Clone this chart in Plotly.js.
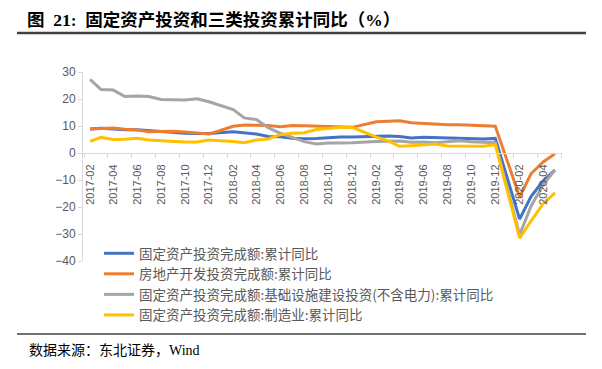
<!DOCTYPE html>
<html>
<head>
<meta charset="utf-8">
<script src="https://cdn.plot.ly/plotly-3.0.1.min.js"></script>
<style>html,body{margin:0;padding:0;background:#fff}#chart{width:602px;height:369px}</style>
</head>
<body>
<div id="chart"></div>
<script>
// Months (Jan values are combined into Feb, so January is absent)
var months = [
  '2017-02','2017-03','2017-04','2017-05','2017-06','2017-07','2017-08','2017-09','2017-10','2017-11','2017-12',
  '2018-02','2018-03','2018-04','2018-05','2018-06','2018-07','2018-08','2018-09','2018-10','2018-11','2018-12',
  '2019-02','2019-03','2019-04','2019-05','2019-06','2019-07','2019-08','2019-09','2019-10','2019-11','2019-12',
  '2020-02','2020-03','2020-04','2020-05'
];
var seriesNames = [
  '固定资产投资完成额:累计同比',
  '房地产开发投资完成额:累计同比',
  '固定资产投资完成额:基础设施建设投资(不含电力):累计同比',
  '固定资产投资完成额:制造业:累计同比'
];
var fai = [8.9,9.2,8.9,8.6,8.6,8.3,7.8,7.5,7.3,7.2,7.2,
           7.9,7.5,7.0,6.1,6.0,5.5,5.3,5.4,5.7,5.9,5.9,
           6.1,6.3,6.1,5.6,5.8,5.7,5.5,5.4,5.2,5.2,5.4,
           -24.5,-16.1,-10.3,-6.3];
var realEstate = [8.9,9.1,9.3,8.8,8.5,7.9,7.9,8.1,7.8,7.5,7.0,
           9.9,10.4,10.3,10.2,9.7,10.2,10.1,9.9,9.7,9.7,9.5,
           11.6,11.8,11.9,11.2,10.9,10.6,10.5,10.5,10.3,10.2,9.9,
           -16.3,-7.7,-3.3,-0.3];
var infra = [27.3,23.5,23.3,20.9,21.1,20.9,19.8,19.8,19.6,20.1,19.0,
           16.1,13.0,12.4,9.4,7.3,5.7,4.2,3.3,3.7,3.7,3.8,
           4.3,4.4,4.4,4.0,4.1,3.8,4.2,4.5,4.2,4.0,3.8,
           -30.3,-19.7,-11.8,-6.3];
var manuf = [4.3,5.8,5.0,5.1,5.5,4.8,4.5,4.2,4.1,4.1,4.8,
           4.3,3.8,4.8,5.2,6.8,7.3,7.5,8.7,9.1,9.5,9.5,
           5.9,4.6,2.5,2.7,3.0,3.3,2.6,2.5,2.6,2.5,3.1,
           -31.5,-25.2,-18.8,-14.8];
var colors = ['#4472C4','#ED7D31','#A5A5A5','#FFC000'];
var yTicks = [30,20,10,0,-10,-20,-30,-40];

var values = [fai, realEstate, infra, manuf];
var traces = values.map(function(v,i){
  return {x: months, y: v, type:'scatter', mode:'lines', name: seriesNames[i],
          line:{color: colors[i], width:3}, hoverinfo:'skip'};
});

// plot area pixel geometry
var L=83, R=562, T=72, B=261, W=602, H=369;
function px(x){return (x-L)/(R-L);}
function py(y){return (B-y)/(B-T);}

var layout = {
  width: W, height: H,
  margin: {l:L, r:W-R, t:T, b:H-B, pad:0},
  paper_bgcolor:'#fff', plot_bgcolor:'rgba(0,0,0,0)',
  showlegend: true,
  title: {
    text: '图&nbsp;&nbsp;21:&nbsp;&nbsp;固定资产投资和三类投资累计同比（%）',
    font: {family:'Liberation Serif, Noto Sans CJK SC', size:17.5, color:'#000', weight:'bold'},
    x: 27/W, xref:'container', xanchor:'left',
    y: 1-20/H, yref:'container', yanchor:'middle'
  },
  xaxis: {
    type:'date',
    range:['2017-01-14','2020-05-19'],
    anchor:'free', position: 40/70,
    showgrid:false, zeroline:false,
    showline:true, linecolor:'#d9d9d9', linewidth:1,
    tickmode:'linear', tick0:'2017-02-01', dtick:'M2',
    tickformat:'%Y-%m', tickangle:-90,
    ticks:'outside', ticklen:6, tickcolor:'rgba(0,0,0,0)',
    minor:{ticks:'outside', ticklen:4, tickcolor:'#d9d9d9', tick0:'2017-03-17', dtick:'M2', showgrid:false},
    tickfont:{family:'Liberation Sans, Arial', size:11, color:'#595959'},
    fixedrange:true
  },
  yaxis: {
    range:[-40,30], tickvals: yTicks,
    showgrid:false, zeroline:false,
    showline:true, linecolor:'#d9d9d9', linewidth:1,
    ticks:'outside', ticklen:4, tickcolor:'#d9d9d9',
    tickfont:{family:'Liberation Sans, Arial', size:12, color:'#595959'},
    fixedrange:true
  },
  legend: {
    x: px(99), xanchor:'left', y: py(238), yanchor:'top',
    bgcolor:'rgba(0,0,0,0)', borderwidth:0,
    font:{family:'Noto Sans CJK SC', size:13.5, color:'#595959'},
    traceorder:'normal'
  },
  shapes: [
    {type:'line', xref:'paper', yref:'paper', x0:px(17), x1:px(586), y0:py(33), y1:py(33), line:{color:'#404040', width:2.5}},
    {type:'line', xref:'paper', yref:'paper', x0:px(17), x1:px(586), y0:py(334), y1:py(334), line:{color:'#404040', width:1.5}}
  ],
  annotations: [
    {text:'数据来源：东北证券，Wind', xref:'paper', yref:'paper', x:px(27), y:py(350),
     xanchor:'left', yanchor:'middle', showarrow:false,
     font:{family:'Liberation Serif, Noto Sans CJK SC', size:14, color:'#000'}}
  ]
};

Plotly.newPlot('chart', traces, layout, {displayModeBar:false, staticPlot:true});
</script>
</body>
</html>
